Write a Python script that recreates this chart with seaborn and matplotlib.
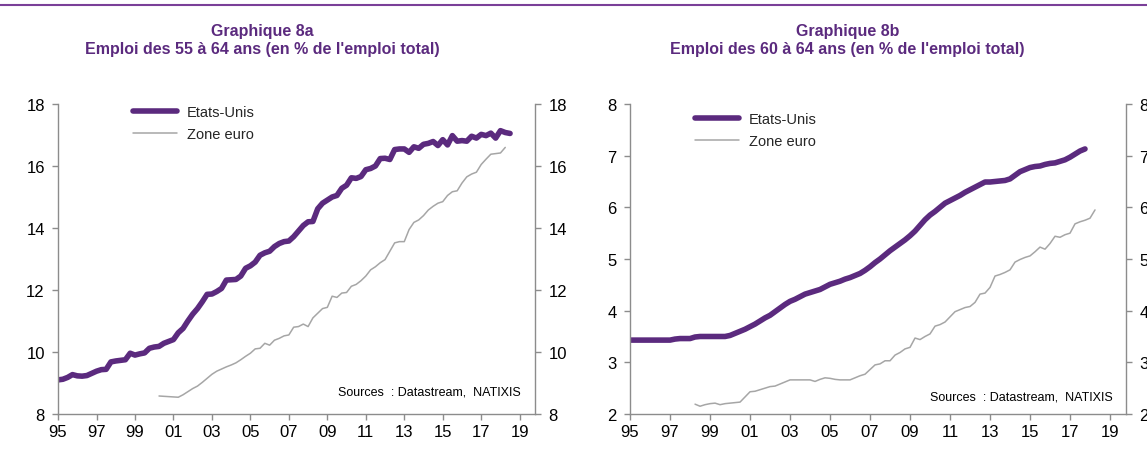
import numpy as np
import pandas as pd
import matplotlib.pyplot as plt
import seaborn as sns
from matplotlib.lines import Line2D

# Emploi des 55-64 ans (% de l'emploi total), trimestriel
us_55_start = '1995-01-01'
us_55 = [9.10, 9.12, 9.18, 9.27,
         9.23, 9.22, 9.24, 9.31,
         9.38, 9.43, 9.44, 9.68,
         9.71, 9.73, 9.75, 9.96,
         9.90, 9.94, 9.97, 10.12,
         10.16, 10.18, 10.28, 10.34,
         10.40, 10.62, 10.76, 11.00,
         11.22, 11.40, 11.62, 11.86,
         11.87, 11.95, 12.05, 12.32,
         12.33, 12.34, 12.45, 12.70,
         12.78, 12.90, 13.12, 13.20,
         13.25, 13.40, 13.50, 13.56,
         13.58, 13.72, 13.90, 14.08,
         14.20, 14.21, 14.62, 14.80,
         14.90, 15.00, 15.05, 15.28,
         15.38, 15.62, 15.60, 15.66,
         15.88, 15.92, 16.00, 16.24,
         16.25, 16.21, 16.53, 16.55,
         16.55, 16.44, 16.62, 16.57,
         16.70, 16.73, 16.79, 16.66,
         16.85, 16.68, 16.98, 16.80,
         16.82, 16.80, 16.96, 16.90,
         17.02, 16.98, 17.06, 16.90,
         17.14, 17.08, 17.05]

ez_55_start = '2000-04-01'
ez_55 = [8.58, 8.57, 8.56,
         8.55, 8.54, 8.62, 8.72,
         8.82, 8.90, 9.02, 9.15,
         9.28, 9.38, 9.45, 9.52,
         9.58, 9.65, 9.75, 9.86,
         9.96, 10.10, 10.12, 10.28,
         10.22, 10.38, 10.44, 10.52,
         10.55, 10.80, 10.82, 10.90,
         10.82, 11.10, 11.25, 11.40,
         11.44, 11.80, 11.76, 11.90,
         11.92, 12.12, 12.18, 12.30,
         12.45, 12.65, 12.75, 12.88,
         12.98, 13.25, 13.52, 13.56,
         13.56, 13.95, 14.18, 14.26,
         14.40, 14.58, 14.70, 14.80,
         14.85, 15.05, 15.17, 15.20,
         15.45, 15.65, 15.74, 15.80,
         16.05, 16.22, 16.38, 16.40,
         16.42, 16.60]

# Emploi des 60-64 ans (% de l'emploi total), trimestriel
us_60_start = '1995-01-01'
us_60 = [3.43, 3.43, 3.43, 3.43,
         3.43, 3.43, 3.43, 3.43,
         3.43, 3.45, 3.46, 3.46,
         3.46, 3.49, 3.50, 3.50,
         3.50, 3.50, 3.50, 3.50,
         3.52, 3.56, 3.60, 3.64,
         3.69, 3.74, 3.80, 3.86,
         3.91, 3.98, 4.05, 4.12,
         4.18, 4.22, 4.27, 4.32,
         4.35, 4.38, 4.41, 4.46,
         4.51, 4.54, 4.57, 4.61,
         4.64, 4.68, 4.72, 4.78,
         4.85, 4.93, 5.00, 5.08,
         5.16, 5.23, 5.30, 5.37,
         5.45, 5.54, 5.65, 5.76,
         5.85, 5.92, 6.00, 6.08,
         6.13, 6.18, 6.23, 6.29,
         6.34, 6.39, 6.44, 6.49,
         6.49, 6.50, 6.51, 6.52,
         6.55, 6.62, 6.69, 6.73,
         6.77, 6.79, 6.80, 6.83,
         6.85, 6.86, 6.89, 6.92,
         6.97, 7.03, 7.09, 7.13]

ez_60_start = '1998-04-01'
ez_60 = [2.19, 2.15, 2.18,
         2.20, 2.21, 2.18, 2.20,
         2.21, 2.22, 2.23, 2.33,
         2.43, 2.44, 2.47, 2.50,
         2.53, 2.54, 2.58, 2.62,
         2.66, 2.66, 2.66, 2.66,
         2.66, 2.63, 2.67, 2.70,
         2.69, 2.67, 2.66, 2.66,
         2.66, 2.70, 2.74, 2.77,
         2.86, 2.95, 2.97, 3.03,
         3.03, 3.14, 3.19, 3.26,
         3.29, 3.47, 3.44, 3.50,
         3.55, 3.70, 3.73, 3.78,
         3.88, 3.98, 4.02, 4.06,
         4.08, 4.16, 4.32, 4.34,
         4.45, 4.67, 4.70, 4.74,
         4.79, 4.94, 4.99, 5.03,
         5.06, 5.14, 5.23, 5.19,
         5.30, 5.44, 5.42, 5.47,
         5.50, 5.68, 5.72, 5.75,
         5.79, 5.95]

series_names = ['Etats-Unis', 'Zone euro']
titles = ["Graphique 8a\nEmploi des 55 à 64 ans (en % de l'emploi total)",
          "Graphique 8b\nEmploi des 60 à 64 ans (en % de l'emploi total)"]
source_text = 'Sources  : Datastream,  NATIXIS'
year_ticks = list(range(1995, 2020, 2))

purple = '#5b2a7e'
grey_line = '#a6a6a6'
axis_grey = '#8c8c8c'


def quarterly(values, start, name):
    d = pd.date_range(start, periods=len(values), freq='QS')
    return pd.DataFrame({'annee': d.year + (d.month - 1) / 12,
                         'valeur': values, 'serie': name})


sns.set_theme(style='white')
plt.rcParams['font.family'] = ['Liberation Sans', 'DejaVu Sans']

fig = plt.figure(figsize=(11.47, 4.52), dpi=100)
ax1 = fig.add_axes([0.0506, 0.0819, 0.4159, 0.6858])
ax2 = fig.add_axes([0.5493, 0.0819, 0.4324, 0.6858])

panels = [
    (ax1, us_55, us_55_start, ez_55, ez_55_start, (8, 18), [8, 10, 12, 14, 16, 18],
     (0.157, 0.997), (0.971, 0.071)),
    (ax2, us_60, us_60_start, ez_60, ez_60_start, (2, 8), [2, 3, 4, 5, 6, 7, 8],
     (0.131, 0.975), (0.974, 0.058)),
]

for ax, us, us_start, ez, ez_start, ylim, yticks, leg_pos, src_pos in panels:
    us_df = quarterly(us, us_start, series_names[0])
    ez_df = quarterly(ez, ez_start, series_names[1])
    sns.lineplot(data=us_df, x='annee', y='valeur', ax=ax, color=purple,
                 linewidth=4.0, label=series_names[0], solid_capstyle='round')
    sns.lineplot(data=ez_df, x='annee', y='valeur', ax=ax, color=grey_line,
                 linewidth=1.1, label=series_names[1])

    ax.set_xlim(1995, 2019.8)
    ax.set_ylim(*ylim)
    ax.set_xticks(year_ticks)
    ax.set_xticklabels([f'{y % 100:02d}' for y in year_ticks])
    ax.set_yticks(yticks)
    ax.set_xlabel('')
    ax.set_ylabel('')

    ax.spines['top'].set_visible(False)
    for s in ['left', 'right', 'bottom']:
        ax.spines[s].set_color(axis_grey)
        ax.spines[s].set_linewidth(1.0)
    ax.tick_params(axis='y', which='both', left=True, right=True,
                   labelleft=True, labelright=True, direction='out',
                   length=4.5, width=1.0, color=axis_grey, pad=5,
                   labelsize=12, labelcolor='black')
    ax.tick_params(axis='x', bottom=True, direction='out', length=4,
                   width=1.0, color=axis_grey, pad=3, labelsize=12,
                   labelcolor='black')

    ax.legend(loc='upper left', bbox_to_anchor=leg_pos, frameon=False,
              fontsize=10.5, handlelength=3.0, handletextpad=0.7,
              labelspacing=0.55, borderpad=0, borderaxespad=0)

    ax.text(src_pos[0], src_pos[1], source_text, transform=ax.transAxes,
            ha='right', va='center', fontsize=9, color='black')

fig.text(0.2284, 0.91, titles[0], ha='center', va='center', fontsize=11.5,
         fontweight='bold', color=purple, linespacing=1.3)
fig.text(0.739, 0.91, titles[1], ha='center', va='center', fontsize=11.5,
         fontweight='bold', color=purple, linespacing=1.3)

fig.add_artist(Line2D([0, 1], [1 - 6 / 452, 1 - 6 / 452], transform=fig.transFigure,
                      color='#7a3f98', linewidth=1.5))

fig.savefig('out.png', dpi=100)
